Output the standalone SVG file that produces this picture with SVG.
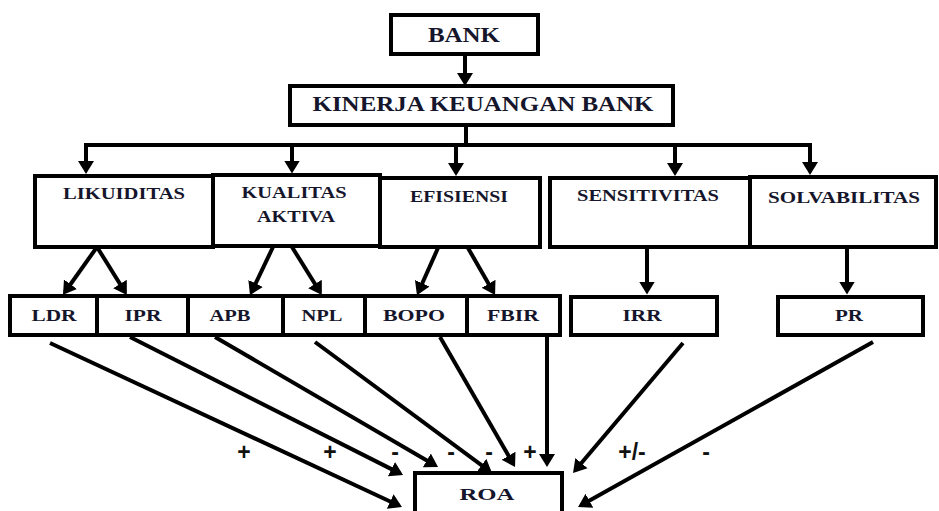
<svg xmlns="http://www.w3.org/2000/svg" width="939" height="511" viewBox="0 0 939 511">
<style>
.box{fill:#fff;stroke:#000;stroke-width:4}
.t{font-family:"Liberation Serif","Times New Roman",serif;font-weight:bold;fill:#15152b;text-anchor:middle}
.big{font-size:20px}
.mid{font-size:17px}
.sub{font-size:17.5px}
.c{stroke:#000;stroke-width:4;fill:none}
.a{marker-end:url(#ah)}
.s{font-family:"Liberation Sans",Arial,sans-serif;font-weight:bold;font-size:23px;fill:#111;text-anchor:middle}
</style>
<defs>
<marker id="ah" markerUnits="userSpaceOnUse" viewBox="0 -9 14 18" markerWidth="14" markerHeight="18" refX="9.5" refY="0" orient="auto">
<path d="M0,-8 L13,0 L0,8 z" fill="#000"/>
</marker>
</defs>
<rect width="939" height="511" fill="#fff"/>

<g id="connectors">
<line class="c a" x1="465" y1="54" x2="465" y2="82.5"/>
<line class="c" x1="466" y1="125" x2="466" y2="145"/>
<line class="c" x1="84" y1="145" x2="812" y2="145"/>
<line class="c a" x1="86" y1="145" x2="86" y2="170.5"/>
<line class="c a" x1="292" y1="145" x2="292" y2="170"/>
<line class="c a" x1="456" y1="145" x2="456" y2="172.5"/>
<line class="c a" x1="675" y1="145" x2="675" y2="172.5"/>
<line class="c a" x1="810" y1="145" x2="810" y2="171.5"/>

<line class="c a" x1="97" y1="247" x2="65" y2="292"/>
<line class="c a" x1="97" y1="247" x2="125" y2="292"/>
<line class="c a" x1="273" y1="247" x2="251.5" y2="292"/>
<line class="c a" x1="292" y1="247" x2="320" y2="292"/>
<line class="c a" x1="438" y1="248" x2="418.4" y2="292"/>
<line class="c a" x1="468" y1="248" x2="493.3" y2="292"/>
<line class="c a" x1="647" y1="248" x2="647" y2="291"/>
<line class="c a" x1="847" y1="248" x2="847" y2="291"/>

<line class="c a" x1="50" y1="343" x2="398.8" y2="505.5"/>
<line class="c a" x1="130" y1="337" x2="399.9" y2="473.4"/>
<line class="c a" x1="215" y1="337" x2="435" y2="465.2"/>
<line class="c a" x1="315" y1="342" x2="489.2" y2="470.9"/>
<line class="c a" x1="440" y1="337" x2="513.3" y2="464"/>
<line class="c a" x1="547" y1="335" x2="547" y2="463.5"/>
<line class="c a" x1="683" y1="343" x2="575.3" y2="470.3"/>
<line class="c a" x1="873" y1="342" x2="581.1" y2="505.3"/>
</g>

<g id="labels">
<text class="s" x="244" y="460">+</text>
<text class="s" x="330" y="460">+</text>
<text class="s" x="395" y="460">-</text>
<text class="s" x="451" y="460">-</text>
<text class="s" x="489" y="460">-</text>
<text class="s" x="530" y="460">+</text>
<text class="s" x="632" y="460">+/-</text>
<text class="s" x="706" y="460">-</text>
</g>

<g id="bank">
<rect class="box" x="391" y="15" width="147" height="39"/>
<text class="t big" x="464" y="42" textLength="72" lengthAdjust="spacingAndGlyphs">BANK</text>
</g>
<g id="kinerja">
<rect class="box" x="290" y="86" width="383" height="39"/>
<text class="t big" x="483" y="111" textLength="341" lengthAdjust="spacingAndGlyphs">KINERJA KEUANGAN BANK</text>
</g>

<g id="likuiditas">
<rect class="box" x="35" y="176" width="178" height="71"/>
<text class="t mid" x="124" y="199" textLength="122" lengthAdjust="spacingAndGlyphs">LIKUIDITAS</text>
</g>
<g id="kualitas">
<rect class="box" x="213" y="175" width="167" height="71"/>
<text class="t mid" x="294" y="198" textLength="105" lengthAdjust="spacingAndGlyphs">KUALITAS</text>
<text class="t mid" x="296" y="222" textLength="78" lengthAdjust="spacingAndGlyphs">AKTIVA</text>
</g>
<g id="efisiensi">
<rect class="box" x="380" y="178" width="160" height="69"/>
<text class="t mid" x="459" y="202" textLength="98" lengthAdjust="spacingAndGlyphs">EFISIENSI</text>
</g>
<g id="sensitivitas">
<rect class="box" x="550" y="178" width="200" height="69"/>
<text class="t mid" x="648" y="201" textLength="142" lengthAdjust="spacingAndGlyphs">SENSITIVITAS</text>
</g>
<g id="solvabilitas">
<rect class="box" x="750" y="177" width="186" height="70"/>
<text class="t mid" x="844" y="203" textLength="152" lengthAdjust="spacingAndGlyphs">SOLVABILITAS</text>
</g>

<g id="ldr"><rect class="box" x="10" y="296" width="87" height="39"/><text class="t sub" x="54" y="321" textLength="45" lengthAdjust="spacingAndGlyphs">LDR</text></g>
<g id="ipr"><rect class="box" x="97" y="296" width="91" height="39"/><text class="t sub" x="143" y="321" textLength="37" lengthAdjust="spacingAndGlyphs">IPR</text></g>
<g id="apb"><rect class="box" x="188" y="296" width="95" height="39"/><text class="t sub" x="230" y="321" textLength="41" lengthAdjust="spacingAndGlyphs">APB</text></g>
<g id="npl"><rect class="box" x="283" y="296" width="82" height="39"/><text class="t sub" x="322" y="321" textLength="41" lengthAdjust="spacingAndGlyphs">NPL</text></g>
<g id="bopo"><rect class="box" x="365" y="296" width="102" height="39"/><text class="t sub" x="414" y="321" textLength="62" lengthAdjust="spacingAndGlyphs">BOPO</text></g>
<g id="fbir"><rect class="box" x="467" y="296" width="93" height="39"/><text class="t sub" x="513" y="321" textLength="52" lengthAdjust="spacingAndGlyphs">FBIR</text></g>
<g id="irr"><rect class="box" x="571" y="297" width="146" height="38"/><text class="t sub" x="642" y="321" textLength="39" lengthAdjust="spacingAndGlyphs">IRR</text></g>
<g id="pr"><rect class="box" x="778" y="297" width="145" height="38"/><text class="t sub" x="849" y="321" textLength="28" lengthAdjust="spacingAndGlyphs">PR</text></g>

<g id="roa">
<rect class="box" x="415" y="473" width="147" height="50"/>
<text class="t sub" x="487" y="500" textLength="55" lengthAdjust="spacingAndGlyphs">ROA</text>
</g>
</svg>
